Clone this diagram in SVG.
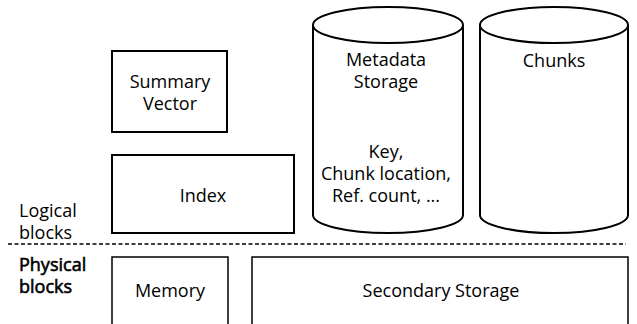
<svg xmlns="http://www.w3.org/2000/svg" width="637" height="324" viewBox="0 0 637 324">
  <style>
    .lbl { font-family: "Open Sans", "Noto Sans", "DejaVu Sans", sans-serif; font-size: 18px; fill: #000; text-anchor: middle; }
    .side { font-family: "Open Sans", "Noto Sans", "DejaVu Sans", sans-serif; font-size: 18px; fill: #000; }
    .heavy { stroke: #000; stroke-width: 0.6; }
    .box { fill: #fff; stroke: #000; stroke-width: 2; }
    .thin { fill: #fff; stroke: #000; stroke-width: 1.5; }
    .cyl { fill: #fff; stroke: #000; stroke-width: 2; }
  </style>
  <rect width="637" height="324" fill="#fff"/>

  <!-- logical / physical divider -->
  <g id="connectors">
    <line x1="8" y1="244" x2="626" y2="244" stroke="#000" stroke-width="1.5" stroke-dasharray="4 2.5"/>
  </g>

  <!-- side captions -->
  <g id="caption-logical">
    <text class="side" x="19" y="217">Logical</text>
    <text class="side" x="19" y="239">blocks</text>
  </g>
  <g id="caption-physical">
    <text class="side heavy" x="19" y="271">Physical</text>
    <text class="side heavy" x="19" y="293">blocks</text>
  </g>

  <!-- logical blocks -->
  <g id="summary-vector">
    <rect class="box" x="112" y="51" width="115" height="81"/>
    <text class="lbl" x="170" y="88">Summary</text>
    <text class="lbl" x="170" y="110">Vector</text>
  </g>
  <g id="index">
    <rect class="box" x="112" y="155" width="182" height="78" stroke-width="2.5"/>
    <text class="lbl" x="203" y="202">Index</text>
  </g>
  <g id="metadata-storage">
    <path class="cyl" d="M313,25 L313,215 A75,18 0 0 0 463,215 L463,25"/>
    <ellipse class="cyl" cx="388" cy="25" rx="75" ry="18"/>
    <text class="lbl" x="386" y="66">Metadata</text>
    <text class="lbl" x="386" y="88">Storage</text>
    <text class="lbl" x="386" y="158">Key,</text>
    <text class="lbl" x="386" y="180">Chunk location,</text>
    <text class="lbl" x="386" y="202">Ref. count, ...</text>
  </g>
  <g id="chunks">
    <path class="cyl" d="M480,25 L480,215 A74,18 0 0 0 628,215 L628,25"/>
    <ellipse class="cyl" cx="554" cy="25" rx="74" ry="18"/>
    <text class="lbl" x="554" y="67">Chunks</text>
  </g>

  <!-- physical blocks -->
  <g id="memory">
    <rect class="thin" x="112" y="257" width="116" height="80"/>
    <text class="lbl" x="170" y="297">Memory</text>
  </g>
  <g id="secondary-storage">
    <rect class="thin" x="252" y="257" width="376" height="80"/>
    <text class="lbl" x="441" y="297">Secondary Storage</text>
  </g>
</svg>
